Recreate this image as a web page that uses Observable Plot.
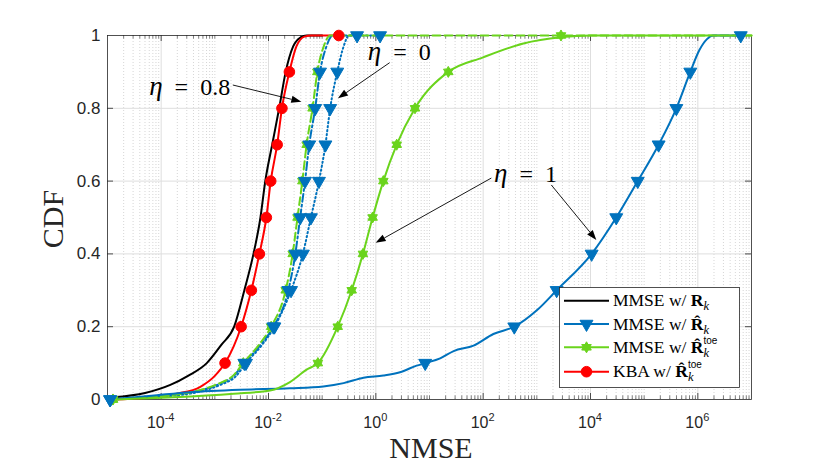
<!DOCTYPE html>
<html><head><meta charset="utf-8">
<script src="https://cdn.jsdelivr.net/npm/d3@7"></script>
<script src="https://cdn.jsdelivr.net/npm/@observablehq/plot@0.6"></script>
<style>
body{margin:0;background:#fff;}
#chart{width:830px;height:471px;}
</style></head><body><div id="chart"></div>
<script>
// ---- axes ----
const xDomain = [1e-5, 1e7];
const xMajor = [1e-4, 1e-2, 1, 1e2, 1e4, 1e6];
const xMajorExp = ["-4", "-2", "0", "2", "4", "6"];
const yTicks = [0, 0.2, 0.4, 0.6, 0.8, 1];
const yTickLabels = ["0", "0.2", "0.4", "0.6", "0.8", "1"];

// ---- series: MMSE w/ R_k (black) ----
const blackX = [1.26e-5, 5.01e-5, 1.48e-4, 3.16e-4, 7.08e-4, 1.32e-3, 2.29e-3, 3.55e-3, 5.25e-3, 7.08e-3, 8.71e-3, 1.17e-2, 1.58e-2, 2.09e-2, 2.88e-2, 3.98e-2, 5.13e-2, 0.1];
const blackY = [0.006, 0.018, 0.04, 0.065, 0.1, 0.15, 0.2, 0.3, 0.4, 0.5, 0.6, 0.7, 0.8, 0.9, 0.97, 0.995, 1, 1];

// ---- KBA w/ R^toe (red) ----
const redX = [1.26e-5, 5.01e-5, 1.95e-4, 5.37e-4, 1e-3, 1.55e-3, 3.09e-3, 4.79e-3, 6.76e-3, 9.12e-3, 1.10e-2, 1.45e-2, 1.78e-2, 2.45e-2, 3.31e-2, 4.68e-2, 6.31e-2, 0.204];
const redY = [0, 0.004, 0.016, 0.035, 0.065, 0.1, 0.2, 0.3, 0.4, 0.5, 0.6, 0.7, 0.8, 0.9, 0.97, 0.997, 1, 1];
const redMkX = [1.55e-3, 3.09e-3, 4.79e-3, 6.76e-3, 9.12e-3, 1.10e-2, 1.45e-2, 1.78e-2, 2.45e-2, 0.204];
const redMkY = [0.1, 0.2, 0.3, 0.4, 0.5, 0.6, 0.7, 0.8, 0.9, 1];

// ---- MMSE w/ R^ (blue), eta = 0 (dotted) ----
const blueE0X = [1.12e-5, 3.98e-5, 1.58e-4, 5.37e-4, 1.26e-3, 2.51e-3, 3.80e-3, 7.59e-3, 1.29e-2, 2.63e-2, 4.37e-2, 6.17e-2, 8.71e-2, 0.115, 0.141, 0.191, 0.251, 0.316, 1.2];
const blueE0Y = [0, 0.004, 0.01, 0.022, 0.04, 0.065, 0.1, 0.15, 0.2, 0.3, 0.4, 0.5, 0.6, 0.7, 0.8, 0.9, 0.97, 1, 1];
const blueE0MkX = [3.80e-3, 1.29e-2, 2.63e-2, 4.37e-2, 6.17e-2, 8.71e-2, 0.115, 0.141, 0.191, 1.2];
const blueE0MkY = [0.1, 0.2, 0.3, 0.4, 0.5, 0.6, 0.7, 0.8, 0.9, 1];

// ---- MMSE w/ R^ (blue), eta = 0.8 (dash-dot) ----
const blueE8X = [1.12e-5, 3.98e-5, 1.58e-4, 5.37e-4, 1.10e-3, 2.24e-3, 3.55e-3, 7.08e-3, 1.23e-2, 2.34e-2, 3.16e-2, 3.89e-2, 4.79e-2, 5.75e-2, 7.41e-2, 9.12e-2, 0.120, 0.158, 0.447];
const blueE8Y = [0, 0.005, 0.012, 0.025, 0.04, 0.065, 0.1, 0.15, 0.2, 0.3, 0.4, 0.5, 0.6, 0.7, 0.8, 0.9, 0.97, 1, 1];
const blueE8MkX = [1.12e-5, 3.55e-3, 1.23e-2, 2.34e-2, 3.16e-2, 3.89e-2, 4.79e-2, 5.75e-2, 7.41e-2, 9.12e-2, 0.447];
const blueE8MkY = [0, 0.1, 0.2, 0.3, 0.4, 0.5, 0.6, 0.7, 0.8, 0.9, 1];

// ---- MMSE w/ R^ (blue), eta = 1 (solid) ----
const blueE1X = [1.12e-5, 8.32e-5, 3.47e-4, 2.95e-3, 2.51e-2, 0.105, 0.251, 0.589, 1.38, 2.82, 5.75, 8.32, 15.8, 28.2, 66.1, 155, 380, 1000, 2340, 1.05e4, 3.02e4, 7.59e4, 1.86e5, 3.98e5, 7.24e5, 1.07e6, 1.48e6, 1.95e6, 6.31e6];
const blueE1Y = [0, 0.012, 0.02, 0.027, 0.031, 0.036, 0.045, 0.06, 0.066, 0.075, 0.093, 0.1, 0.113, 0.133, 0.148, 0.18, 0.2, 0.245, 0.3, 0.4, 0.5, 0.6, 0.7, 0.8, 0.9, 0.96, 0.99, 1, 1];
const blueE1MkX = [1.12e-5, 8.32, 380, 2340, 1.05e4, 3.02e4, 7.59e4, 1.86e5, 3.98e5, 7.24e5, 6.31e6];
const blueE1MkY = [0, 0.1, 0.2, 0.3, 0.4, 0.5, 0.6, 0.7, 0.8, 0.9, 1];

// ---- MMSE w/ R^toe (green), eta = 0.8 (dashed) ----
const greenE8X = [1.26e-5, 3.98e-5, 1.58e-4, 5.37e-4, 1.10e-3, 2.24e-3, 3.39e-3, 6.61e-3, 1.12e-2, 2.09e-2, 2.82e-2, 3.47e-2, 4.27e-2, 5.13e-2, 6.61e-2, 8.13e-2, 0.107, 0.141, 1e7];
const greenE8Y = [0, 0.005, 0.012, 0.026, 0.042, 0.067, 0.1, 0.15, 0.2, 0.3, 0.4, 0.5, 0.6, 0.7, 0.8, 0.9, 0.97, 1, 1];
const greenE8MkX = [1.26e-5, 3.39e-3, 1.12e-2, 2.09e-2, 2.82e-2, 3.47e-2, 4.27e-2, 5.13e-2, 6.61e-2, 8.13e-2];
const greenE8MkY = [0, 0.1, 0.2, 0.3, 0.4, 0.5, 0.6, 0.7, 0.8, 0.9];

// ---- MMSE w/ R^toe (green), eta = 1 (solid) ----
const greenE1X = [1.26e-5, 1.70e-4, 2.24e-3, 1.07e-2, 2.51e-2, 5.13e-2, 8.32e-2, 0.195, 0.355, 0.575, 0.871, 1.38, 2.45, 5.37, 22.4, 100, 562, 2820, 1e4, 1e7];
const greenE1Y = [0, 0.006, 0.016, 0.025, 0.048, 0.082, 0.1, 0.2, 0.3, 0.4, 0.5, 0.6, 0.7, 0.8, 0.9, 0.94, 0.978, 0.995, 1, 1];
const greenE1MkX = [1.26e-5, 8.32e-2, 0.195, 0.355, 0.575, 0.871, 1.38, 2.45, 5.37, 22.4, 2820];
const greenE1MkY = [0, 0.1, 0.2, 0.3, 0.4, 0.5, 0.6, 0.7, 0.8, 0.9, 1];

// ---- annotations ----
const annLabels = ["0.8", "0", "1"];
const annTextX = [3.47e-4, 2.8, 630];
const annTextY = [0.836, 0.932, 0.596];
const arrowX1 = [2.21e-3, 1.85, 145, 1901];
const arrowY1 = [0.8626, 0.924, 0.607, 0.588];
const arrowX2 = [4.18e-2, 0.201, 1.013, 13120];
const arrowY2 = [0.8168, 0.826, 0.429, 0.437];

const BLUE = "#0072BD", GREEN = "#6ad41c", RED = "#ff0000", BLACK = "#000000";
const SERIF = "'Liberation Serif', 'DejaVu Serif', serif";
const SANS = "'Liberation Sans', Arial, sans-serif";

const pts = (xs, ys) => xs.map((x, i) => ({x, y: ys[i]}));

// hexagram symbol (MATLAB style star)
const hexagram = {
  draw(ctx, size) {
    const R = Math.sqrt(size / Math.PI) * 1.15;
    for (const off of [-90, 90]) {
      for (let k = 0; k < 3; k++) {
        const a = (off + k * 120) * Math.PI / 180;
        const px = R * Math.cos(a), py = R * Math.sin(a);
        if (k === 0) ctx.moveTo(px, py); else ctx.lineTo(px, py);
      }
      ctx.closePath();
    }
  }
};

// minor log ticks
const xMinor = [];
for (let e = -5; e <= 6; e++) {
  for (let m = 1; m <= 9; m++) {
    const v = m * Math.pow(10, e);
    if (v <= xDomain[0] || v >= xDomain[1]) continue;
    if (m === 1 && xMajor.some(t => Math.abs(Math.log10(t) - e) < 1e-9)) continue;
    xMinor.push(v);
  }
}

const lineOpts = (stroke, dash) => ({x: "x", y: "y", stroke, strokeWidth: 2, curve: "monotone-x", strokeDasharray: dash});

const plot = Plot.plot({
  width: 830, height: 471,
  marginLeft: 107, marginRight: 79, marginTop: 35, marginBottom: 72,
  x: {type: "log", domain: xDomain, axis: null},
  y: {domain: [0, 1], axis: null},
  style: {background: "#fff", overflow: "visible"},
  marks: [
    Plot.ruleX(xMinor, {stroke: "#c4c4c4", strokeWidth: 0.7, strokeDasharray: "1,2"}),
    Plot.ruleX(xMajor, {stroke: "#dedede", strokeWidth: 1}),
    Plot.ruleY(yTicks.slice(1, -1), {stroke: "#dedede", strokeWidth: 1}),
    Plot.frame({stroke: "#262626", strokeWidth: 0.8}),
    // ticks inside
    Plot.ruleX(xMajor, {stroke: "#262626", strokeWidth: 0.8, insetTop: 358}),
    Plot.ruleX(xMajor, {stroke: "#262626", strokeWidth: 0.8, insetBottom: 358}),
    Plot.ruleX(xMinor, {stroke: "#262626", strokeWidth: 0.6, insetTop: 360.5}),
    Plot.ruleX(xMinor, {stroke: "#262626", strokeWidth: 0.6, insetBottom: 360.5}),
    Plot.ruleY(yTicks.slice(1, -1), {stroke: "#262626", strokeWidth: 0.8, insetRight: 638}),
    Plot.ruleY(yTicks.slice(1, -1), {stroke: "#262626", strokeWidth: 0.8, insetLeft: 638}),
    // y tick labels
    Plot.text(yTicks, {x: () => xDomain[0], y: d => d, text: (d, i) => yTickLabels[i], textAnchor: "end", dx: -7, fontSize: 17, fontFamily: SANS, fill: "#262626"}),
    // curves
    Plot.line(pts(blackX, blackY), lineOpts(BLACK)),
    Plot.line(pts(redX, redY), lineOpts(RED)),
    Plot.line(pts(blueE0X, blueE0Y), lineOpts(BLUE, "1.3,2.7")),
    Plot.line(pts(blueE8X, blueE8Y), lineOpts(BLUE, "8,3,2,3")),
    Plot.line(pts(greenE8X, greenE8Y), lineOpts(GREEN, "8,4")),
    Plot.line(pts(blueE1X, blueE1Y), lineOpts(BLUE)),
    Plot.line(pts(greenE1X, greenE1Y), lineOpts(GREEN)),
    // markers
    Plot.dot(pts(greenE8MkX, greenE8MkY), {x: "x", y: "y", symbol: hexagram, r: 4.8, fill: GREEN, stroke: GREEN, strokeWidth: 1}),
    Plot.dot(pts(greenE1MkX, greenE1MkY), {x: "x", y: "y", symbol: hexagram, r: 4.8, fill: GREEN, stroke: GREEN, strokeWidth: 1}),
    Plot.dot(pts(blueE0MkX, blueE0MkY), {x: "x", y: "y", symbol: "triangle", rotate: 180, r: 4.8, fill: BLUE, stroke: BLUE, strokeWidth: 1}),
    Plot.dot(pts(blueE8MkX, blueE8MkY), {x: "x", y: "y", symbol: "triangle", rotate: 180, r: 4.8, fill: BLUE, stroke: BLUE, strokeWidth: 1}),
    Plot.dot(pts(blueE1MkX, blueE1MkY), {x: "x", y: "y", symbol: "triangle", rotate: 180, r: 4.8, fill: BLUE, stroke: BLUE, strokeWidth: 1}),
    Plot.dot(pts(redMkX, redMkY), {x: "x", y: "y", r: 5.3, fill: RED, stroke: RED, strokeWidth: 1})
  ]
});
document.getElementById("chart").appendChild(plot);

const svg = d3.select(plot);
const sx = plot.scale("x"), sy = plot.scale("y");
const X = v => sx.apply(v), Y = v => sy.apply(v);

// x tick labels with superscripts
xMajor.forEach((v, i) => {
  const t = svg.append("text").attr("x", X(v)).attr("y", 428)
    .attr("text-anchor", "middle").attr("font-family", SANS).attr("font-size", 16).attr("fill", "#262626");
  t.append("tspan").text("10");
  t.append("tspan").attr("font-size", 11).attr("dy", -7).text(xMajorExp[i]);
});

// axis labels
svg.append("text").attr("x", 431).attr("y", 458).attr("text-anchor", "middle")
  .attr("font-family", SERIF).attr("font-size", 30).attr("fill", "#262626").text("NMSE");
svg.append("text").attr("transform", "translate(63,219) rotate(-90)").attr("text-anchor", "middle")
  .attr("font-family", SERIF).attr("font-size", 30).attr("fill", "#262626").text("CDF");

// annotation texts
annLabels.forEach((lab, i) => {
  const t = svg.append("text").attr("x", X(annTextX[i])).attr("y", Y(annTextY[i]))
    .attr("text-anchor", "middle").attr("font-family", SERIF).attr("font-size", 24).attr("fill", "#000");
  t.append("tspan").attr("font-style", "italic").attr("font-size", 27).text("η");
  t.append("tspan").attr("dx", 12).text("=");
  t.append("tspan").attr("dx", 12).text(lab);
});

// arrows
arrowX1.forEach((x1, i) => {
  const p1 = [X(x1), Y(arrowY1[i])], p2 = [X(arrowX2[i]), Y(arrowY2[i])];
  const dx = p2[0] - p1[0], dy = p2[1] - p1[1], L = Math.hypot(dx, dy);
  const ux = dx / L, uy = dy / L, hl = 10, hw = 3.6;
  const bx = p2[0] - ux * hl, by = p2[1] - uy * hl;
  svg.append("line").attr("x1", p1[0]).attr("y1", p1[1]).attr("x2", bx).attr("y2", by)
    .attr("stroke", "#000").attr("stroke-width", 0.9);
  svg.append("polygon").attr("points", [
    [p2[0], p2[1]], [bx - uy * hw, by + ux * hw], [bx + uy * hw, by - ux * hw]
  ].map(p => p.join(",")).join(" ")).attr("fill", "#000");
});

// legend
const legendItems = [
  {pre: "MMSE w/ ", hat: false, sup: null, color: BLACK, sym: null},
  {pre: "MMSE w/ ", hat: true, sup: null, color: BLUE, sym: "tri"},
  {pre: "MMSE w/ ", hat: true, sup: "toe", color: GREEN, sym: "hex"},
  {pre: "KBA w/ ", hat: true, sup: "toe", color: RED, sym: "circ"}
];
const lg = svg.append("g");
lg.append("rect").attr("x", 559.5).attr("y", 287.5).attr("width", 180).attr("height", 100)
  .attr("fill", "#fff").attr("stroke", "#262626").attr("stroke-width", 0.8);
const rowY = [300.7, 324, 347.3, 371.7];
legendItems.forEach((it, i) => {
  const cy = rowY[i];
  lg.append("line").attr("x1", 564).attr("x2", 609).attr("y1", cy).attr("y2", cy)
    .attr("stroke", it.color).attr("stroke-width", 2);
  if (it.sym) {
    let type = d3.symbolCircle, rot = 0, size = Math.PI * 5.3 * 5.3;
    if (it.sym === "tri") { type = d3.symbolTriangle; rot = 180; size = Math.PI * 4.8 * 4.8; }
    if (it.sym === "hex") { type = hexagram; size = Math.PI * 4.8 * 4.8; }
    lg.append("path").attr("d", d3.symbol(type, size)())
      .attr("transform", `translate(586.5,${cy}) rotate(${rot})`)
      .attr("fill", it.color).attr("stroke", it.color).attr("stroke-width", 1);
  }
  const t = lg.append("text").attr("x", 613).attr("y", cy + 5.5).attr("text-anchor", "start")
    .attr("font-family", SERIF).attr("font-size", 17.5).attr("fill", "#000");
  t.append("tspan").text(it.pre);
  t.append("tspan").attr("font-weight", "bold").text(it.hat ? "R\u0302" : "R");
  t.append("tspan").attr("font-style", "italic").attr("font-size", 12.5).attr("dy", 4).text("k");
  if (it.sup) {
    t.append("tspan").attr("font-family", SANS).attr("font-size", 10).attr("dx", -5.5).attr("dy", -13).text(it.sup);
  }
});
</script></body></html>
